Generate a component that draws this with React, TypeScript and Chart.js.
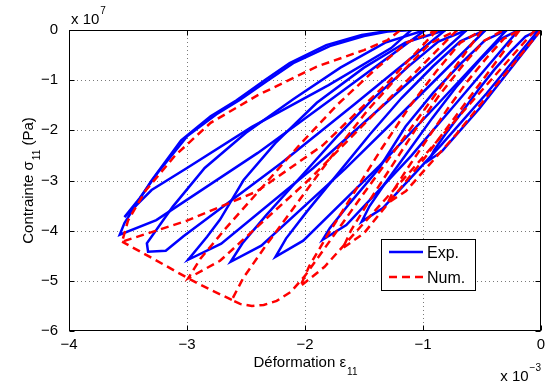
import React, { useEffect, useRef } from "react";
import { Chart, registerables } from "chart.js";
Chart.register(...registerables);

type P = [number, number];

// Axis ranges and ticks (strain in 1e-3, stress in 1e7 Pa)
const xTicks = [-4, -3, -2, -1, 0];
const yTicks = [-6, -5, -4, -3, -2, -1, 0];

// Experimental cycles: reloading branch (residual strain -> peak) then unloading branch
const exp0: P[] = [[0, 0], [-0.52, -1.56], [-0.84, -2.42], [-0.95, -2.6], [-0.904, -2.392], [-0.811, -2.08], [-0.671, -1.638], [-0.532, -1.196], [-0.392, -0.78], [-0.253, -0.416], [-0.132, -0.13], [-0.02, 0]];
const exp1: P[] = [[-0.02, 0], [-0.46, -1.26], [-0.845, -2.29], [-1.34, -3.55], [-1.52, -3.82], [-1.454, -3.514], [-1.321, -3.056], [-1.121, -2.407], [-0.922, -1.757], [-0.722, -1.146], [-0.523, -0.611], [-0.35, -0.191], [-0.19, 0]];
const exp2: P[] = [[-0.19, 0], [-0.69, -1.38], [-1.1, -2.51], [-1.65, -3.89], [-1.85, -4.18], [-1.79, -3.95], [-1.62, -3.45], [-1.37, -2.75], [-1.148, -1.923], [-0.914, -1.254], [-0.68, -0.669], [-0.477, -0.209], [-0.29, 0]];
const exp3: P[] = [[-0.29, 0], [-0.88, -1.49], [-1.37, -2.71], [-2.015, -4.2], [-2.25, -4.52], [-2.161, -4.158], [-1.983, -3.616], [-1.716, -2.848], [-1.449, -2.079], [-1.182, -1.356], [-0.915, -0.723], [-0.684, -0.226], [-0.47, 0]];
const exp4: P[] = [[-0.47, 0], [-1.12, -1.52], [-1.66, -2.77], [-2.37, -4.3], [-2.63, -4.62], [-2.53, -4.25], [-2.33, -3.696], [-2.03, -2.911], [-1.73, -2.125], [-1.43, -1.386], [-1.13, -0.739], [-0.87, -0.231], [-0.63, 0]];
const exp5: P[] = [[-0.63, 0], [-1.34, -1.51], [-1.93, -2.75], [-2.71, -4.26], [-2.99, -4.58], [-2.83, -4.12], [-2.72, -3.78], [-2.52, -2.99], [-2.25, -2.25], [-1.9, -1.45], [-1.5, -0.75], [-1.15, -0.25], [-0.81, 0]];
const exp6: P[] = [[-0.81, 0], [-1.57, -1.46], [-2.2, -2.65], [-3.03, -4.11], [-3.18, -4.4], [-3.33, -4.42], [-3.34, -4.25], [-3.12, -3.52], [-2.85, -2.75], [-2.5, -2.05], [-2.1, -1.38], [-1.7, -0.75], [-1.32, -0.25], [-0.98, 0]];
const exp7: P[] = [[-0.98, 0], [-1.76, -1.35], [-2.4, -2.45], [-3.26, -3.79], [-3.57, -4.08], [-3.53, -3.85], [-3.45, -3.55], [-3.3, -3.0], [-3.05, -2.2], [-2.8, -1.72], [-2.58, -1.4], [-2.33, -0.98], [-2.13, -0.66], [-1.82, -0.3], [-1.52, -0.1], [-1.3, -0.02], [-1.1, 0]];
const exp8: P[] = [[-1.1, 0], [-1.27, -0.36], [-1.8, -1.1], [-2.45, -1.93], [-3.0, -2.75], [-3.3, -3.19], [-3.53, -3.73], [-3.4, -3.35], [-3.25, -2.85], [-3.0, -2.12], [-2.75, -1.68], [-2.55, -1.39], [-2.3, -0.98], [-2.1, -0.66], [-1.79, -0.32], [-1.5, -0.12], [-1.3, -0.03], [-1.14, 0]];

// Numerical cycles
const num1: P[] = [[0, 0], [-0.715, -2.07], [-1.144, -3.21], [-1.3, -3.45], [-1.244, -3.174], [-1.132, -2.76], [-0.964, -2.174], [-0.796, -1.587], [-0.628, -1.035], [-0.46, -0.552], [-0.314, -0.173], [-0.18, 0]];
const num2: P[] = [[-0.18, 0], [-1.005, -2.61], [-1.5, -4.05], [-1.68, -4.35], [-1.612, -4.002], [-1.476, -3.48], [-1.272, -2.741], [-1.068, -2.001], [-0.864, -1.305], [-0.66, -0.696], [-0.483, -0.218], [-0.32, 0]];
const num3: P[] = [[-0.05, 0], [-1.1, -2.8], [-1.834, -4.72], [-2.04, -5.11], [-1.963, -4.701], [-1.809, -4.088], [-1.578, -3.219], [-1.347, -2.351], [-1.116, -1.533], [-0.885, -0.818], [-0.685, -0.256], [-0.5, 0]];
const num4: P[] = [[-0.5, 0], [-1.5, -3.25], [-2.0, -4.9], [-2.12, -5.22], [-2.24, -5.4], [-2.35, -5.48], [-2.45, -5.5], [-2.55, -5.46], [-2.62, -5.38], [-2.525, -4.95], [-2.334, -4.304], [-2.047, -3.389], [-1.761, -2.475], [-1.474, -1.614], [-1.188, -0.861], [-0.939, -0.269], [-0.71, 0]];
const num5: P[] = [[-0.71, 0], [-1.96, -2.97], [-2.72, -4.6], [-2.99, -4.95], [-2.885, -4.554], [-2.674, -3.96], [-2.357, -3.119], [-2.041, -2.277], [-1.724, -1.485], [-1.408, -0.792], [-1.133, -0.248], [-0.88, 0]];
const num6: P[] = [[-0.88, 0], [-1.3, -1.05], [-1.85, -2.3], [-2.41, -3.22], [-3.0, -3.8], [-3.55, -4.22], [-3.5, -3.8], [-3.35, -3.2], [-3.1, -2.5], [-2.8, -1.85], [-2.4, -1.3], [-1.9, -0.73], [-1.5, -0.4], [-1.3, -0.2], [-1.19, 0]];
const numEnvelope: P[] = [[-2.62, -5.38], [-2.8, -5.18], [-2.99, -4.95], [-3.27, -4.58], [-3.55, -4.22]];

const expCurves = [exp0, exp1, exp2, exp3, exp4, exp5, exp6, exp7, exp8];
const numCurves = [num1, num2, num3, num4, num5, num6];

const legendLabels = ["Exp.", "Num."];
const xTitle = "Déformation ε";
const yTitleMain = "Contrainte σ";
const yTitleTail = " (Pa)";
const subText = "11";

const FONT = '"Liberation Sans", Arial, Helvetica, sans-serif';
const BLUE = "#0000ff";
const RED = "#ff0000";

const fmt = (v: number) => (v < 0 ? "\u2212" + Math.abs(v) : String(v));

const matlabPlugin = {
  id: "matlabLook",
  beforeDatasetsDraw(chart: any) {
    const { ctx, chartArea: a, scales } = chart;
    const xs = scales.x, ys = scales.y;
    ctx.save();
    ctx.strokeStyle = "#7a7a7a";
    ctx.lineWidth = 1;
    ctx.setLineDash([1, 3]);
    xTicks.forEach((v) => {
      if (v <= -4 || v >= 0) return;
      const px = Math.round(xs.getPixelForValue(v)) + 0.5;
      ctx.beginPath(); ctx.moveTo(px, a.top); ctx.lineTo(px, a.bottom); ctx.stroke();
    });
    yTicks.forEach((v) => {
      if (v <= -6 || v >= 0) return;
      const py = Math.round(ys.getPixelForValue(v)) + 0.5;
      ctx.beginPath(); ctx.moveTo(a.left, py); ctx.lineTo(a.right, py); ctx.stroke();
    });
    ctx.restore();
  },
  afterDatasetsDraw(chart: any) {
    const { ctx, chartArea: a, scales } = chart;
    const xs = scales.x, ys = scales.y;
    ctx.save();
    ctx.setLineDash([]);
    ctx.strokeStyle = "#000";
    ctx.lineWidth = 1;
    const L = Math.round(a.left) + 0.5, R = Math.round(a.right) - 0.5;
    const T = Math.round(a.top) + 0.5, B = Math.round(a.bottom) - 0.5;
    ctx.strokeRect(L, T, R - L, B - T);
    const tl = 5;
    xTicks.forEach((v) => {
      const px = Math.round(xs.getPixelForValue(v)) + 0.5;
      ctx.beginPath(); ctx.moveTo(px, B); ctx.lineTo(px, B - tl); ctx.moveTo(px, T); ctx.lineTo(px, T + tl); ctx.stroke();
    });
    yTicks.forEach((v) => {
      const py = Math.round(ys.getPixelForValue(v)) + 0.5;
      ctx.beginPath(); ctx.moveTo(L, py); ctx.lineTo(L + tl, py); ctx.moveTo(R, py); ctx.lineTo(R - tl, py); ctx.stroke();
    });

    // legend
    const lx = 381.5, ly = 239.5, lw = 94, lh = 51;
    ctx.fillStyle = "#fff";
    ctx.fillRect(lx, ly, lw, lh);
    ctx.strokeRect(lx, ly, lw, lh);
    ctx.lineWidth = 2.5;
    ctx.strokeStyle = BLUE;
    ctx.beginPath(); ctx.moveTo(389, 252); ctx.lineTo(423, 252); ctx.stroke();
    ctx.strokeStyle = RED;
    ctx.setLineDash([8, 5]);
    ctx.beginPath(); ctx.moveTo(389, 277); ctx.lineTo(423, 277); ctx.stroke();
    ctx.setLineDash([]);
    ctx.fillStyle = "#000";
    ctx.font = `16px ${FONT}`;
    ctx.textBaseline = "alphabetic";
    ctx.textAlign = "left";
    ctx.fillText(legendLabels[0], 427, 258);
    ctx.fillText(legendLabels[1], 427, 283);

    // x title with subscript
    ctx.font = `15px ${FONT}`;
    const w1 = ctx.measureText(xTitle).width;
    ctx.font = `10px ${FONT}`;
    const ws = ctx.measureText(subText).width;
    const xStart = (a.left + a.right) / 2 - (w1 + ws) / 2;
    ctx.font = `15px ${FONT}`;
    ctx.fillText(xTitle, xStart, 367);
    ctx.font = `10px ${FONT}`;
    ctx.fillText(subText, xStart + w1 + 1, 375);

    // y title rotated
    ctx.save();
    ctx.font = `15px ${FONT}`;
    const m1 = ctx.measureText(yTitleMain).width;
    const m3 = ctx.measureText(yTitleTail).width;
    const total = m1 + ws + 1 + m3;
    ctx.translate(33, (a.top + a.bottom) / 2);
    ctx.rotate(-Math.PI / 2);
    let cx = -total / 2;
    ctx.fillText(yTitleMain, cx, 0);
    cx += m1 + 1;
    ctx.font = `10px ${FONT}`;
    ctx.fillText(subText, cx, 7);
    cx += ws;
    ctx.font = `15px ${FONT}`;
    ctx.fillText(yTitleTail, cx, 0);
    ctx.restore();

    // exponent labels
    ctx.font = `15px ${FONT}`;
    ctx.fillText("x 10", 71, 24);
    const wx = ctx.measureText("x 10").width;
    ctx.font = `10px ${FONT}`;
    ctx.fillText("7", 71 + wx + 1, 14);

    ctx.font = `10px ${FONT}`;
    const wsup = ctx.measureText("\u22123").width;
    ctx.font = `15px ${FONT}`;
    const wb = ctx.measureText("x 10").width;
    const bx = a.right - wsup - wb - 1;
    ctx.fillText("x 10", bx, 381);
    ctx.font = `10px ${FONT}`;
    ctx.fillText("\u22123", bx + wb + 1, 371);
    ctx.restore();
  },
};

export default function App() {
  const ref = useRef<HTMLCanvasElement | null>(null);
  useEffect(() => {
    document.body.style.margin = "0";
    const canvas = ref.current!;
    const toData = (c: P[]) => c.map(([x, y]) => ({ x, y }));
    const datasets: any[] = [];
    expCurves.forEach((c) =>
      datasets.push({ data: toData(c), borderColor: BLUE, borderWidth: 2.5, pointRadius: 0, tension: 0, fill: false, order: 2 })
    );
    [...numCurves, numEnvelope].forEach((c) =>
      datasets.push({ data: toData(c), borderColor: RED, borderWidth: 2.5, borderDash: [8, 5], pointRadius: 0, tension: 0, fill: false, order: 1 })
    );
    const chart = new Chart(canvas, {
      type: "line",
      data: { datasets },
      plugins: [matlabPlugin],
      options: {
        animation: false,
        responsive: false,
        devicePixelRatio: 1,
        layout: { padding: { left: 0, right: 10, top: 30, bottom: 0 } },
        plugins: { legend: { display: false }, tooltip: { enabled: false } },
        scales: {
          x: {
            type: "linear",
            min: -4,
            max: 0,
            afterFit: (s: any) => { s.height = 54; },
            afterBuildTicks: (s: any) => { s.ticks = xTicks.map((v) => ({ value: v })); },
            grid: { display: false, drawTicks: false },
            border: { display: false },
            ticks: { color: "#000", padding: 5, font: { size: 15, family: FONT }, callback: (v: any) => fmt(Number(v)), maxRotation: 0, autoSkip: false },
          },
          y: {
            type: "linear",
            min: -6,
            max: 0,
            afterFit: (s: any) => { s.width = 69; },
            afterBuildTicks: (s: any) => { s.ticks = yTicks.map((v) => ({ value: v })); },
            grid: { display: false, drawTicks: false },
            border: { display: false },
            ticks: { color: "#000", padding: 11, font: { size: 15, family: FONT }, callback: (v: any) => fmt(Number(v)), autoSkip: false },
          },
        },
      } as any,
    });
    return () => chart.destroy();
  }, []);
  return (
    <div style={{ width: 551, height: 385, background: "#fff" }}>
      <canvas ref={ref} width={551} height={385} style={{ display: "block" }} />
    </div>
  );
}
